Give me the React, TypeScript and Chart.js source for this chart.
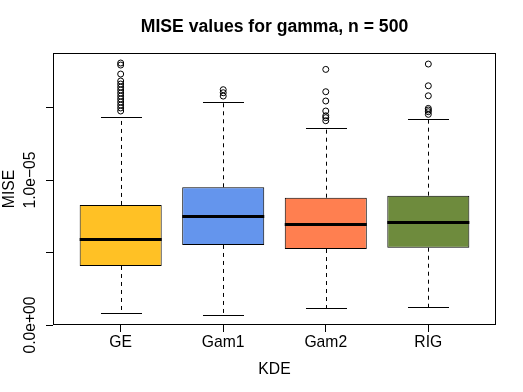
import { useEffect, useRef } from "react";
import { Chart, registerables } from "chart.js";

Chart.register(...registerables);

const FONT = "'Liberation Sans', Arial, Helvetica, sans-serif";

const chartTitle = "MISE values for gamma, n = 500";
const xAxisTitle = "KDE";
const yAxisTitle = "MISE";

const categories = ["GE", "Gam1", "Gam2", "RIG"];
const boxColors = ["#FFC125", "#6495ED", "#FF7F50", "#6E8B3D"];

const lowerWhisker = [0.85e-6, 0.69e-6, 1.15e-6, 1.26e-6];
const q1 = [4.07e-6, 5.52e-6, 5.24e-6, 5.33e-6];
const median = [5.93e-6, 7.54e-6, 6.97e-6, 7.08e-6];
const q3 = [8.28e-6, 9.5e-6, 8.78e-6, 8.92e-6];
const upperWhisker = [14.37e-6, 15.36e-6, 13.61e-6, 14.19e-6];

const outliersGE = [
  18.07e-6, 17.93e-6, 17.31e-6, 16.83e-6, 16.62e-6, 16.41e-6, 16.21e-6, 16.0e-6,
  15.79e-6, 15.59e-6, 15.38e-6, 15.17e-6, 14.97e-6, 14.76e-6,
];
const outliersGam1 = [16.23e-6, 16.02e-6, 15.79e-6];
const outliersGam2 = [17.63e-6, 16.09e-6, 15.45e-6, 14.76e-6, 14.43e-6, 14.3e-6, 14.09e-6];
const outliersRIG = [18.0e-6, 16.5e-6, 15.81e-6, 14.94e-6, 14.83e-6, 14.71e-6, 14.53e-6];
const outliers = [outliersGE, outliersGam1, outliersGam2, outliersRIG];

const yTicks = [0, 5e-6, 1e-5, 1.5e-5];
const yTickLabels = ["0.0e+00", "", "1.0e\u221205", ""];
const yMin = 0;
const yMax = 1.876e-5;

const boxPlugin = {
  id: "boxExtras",
  beforeDatasetsDraw(chart: any) {
    const { ctx, scales } = chart;
    const x = scales.x;
    const y = scales.y;
    const meta = chart.getDatasetMeta(0);
    ctx.save();
    ctx.strokeStyle = "#000";
    ctx.lineWidth = 1;
    categories.forEach((_, i) => {
      const bar = meta.data[i];
      const halfW = bar.width / 2;
      const cx = Math.round(x.getPixelForValue(i + 1)) + 0.5;
      const pQ1 = y.getPixelForValue(q1[i]);
      const pQ3 = y.getPixelForValue(q3[i]);
      const pLo = Math.round(y.getPixelForValue(lowerWhisker[i])) + 0.5;
      const pHi = Math.round(y.getPixelForValue(upperWhisker[i])) + 0.5;
      ctx.setLineDash([4, 4]);
      ctx.beginPath();
      ctx.moveTo(cx, pQ3);
      ctx.lineTo(cx, pHi);
      ctx.moveTo(cx, pQ1);
      ctx.lineTo(cx, pLo);
      ctx.stroke();
      ctx.setLineDash([]);
      ctx.beginPath();
      ctx.moveTo(cx - halfW / 2, pHi);
      ctx.lineTo(cx + halfW / 2, pHi);
      ctx.moveTo(cx - halfW / 2, pLo);
      ctx.lineTo(cx + halfW / 2, pLo);
      ctx.stroke();
    });
    ctx.restore();
  },
  afterDatasetsDraw(chart: any) {
    const { ctx, scales } = chart;
    const x = scales.x;
    const y = scales.y;
    const meta = chart.getDatasetMeta(0);
    ctx.save();
    ctx.strokeStyle = "#000";
    ctx.lineWidth = 3;
    categories.forEach((_, i) => {
      const bar = meta.data[i];
      const halfW = bar.width / 2;
      const cx = x.getPixelForValue(i + 1);
      const pm = Math.round(y.getPixelForValue(median[i])) + 0.5;
      ctx.beginPath();
      ctx.moveTo(cx - halfW, pm);
      ctx.lineTo(cx + halfW, pm);
      ctx.stroke();
    });
    ctx.restore();
  },
  afterDraw(chart: any) {
    const { ctx, chartArea, scales } = chart;
    const y = scales.y;
    ctx.save();
    ctx.strokeStyle = "#000";
    ctx.lineWidth = 1;
    const l = Math.round(chartArea.left) + 0.5;
    const t = Math.round(chartArea.top) + 0.5;
    const r = Math.round(chartArea.right) - 0.5;
    const b = Math.round(chartArea.bottom) - 0.5;
    ctx.strokeRect(l, t, r - l, b - t);
    ctx.fillStyle = "#000";
    ctx.font = `15.7px ${FONT}`;
    ctx.textAlign = "center";
    ctx.textBaseline = "alphabetic";
    yTicks.forEach((v, i) => {
      const label = yTickLabels[i];
      if (!label) return;
      const py = y.getPixelForValue(v);
      ctx.save();
      ctx.translate(35, py);
      ctx.rotate(-Math.PI / 2);
      ctx.fillText(label, 0, 0);
      ctx.restore();
    });
    ctx.save();
    ctx.translate(13.5, (chartArea.top + chartArea.bottom) / 2);
    ctx.rotate(-Math.PI / 2);
    ctx.fillText(yAxisTitle, 0, 0);
    ctx.restore();
    ctx.restore();
  },
};

export default function App() {
  const canvasRef = useRef<HTMLCanvasElement | null>(null);

  useEffect(() => {
    const canvas = canvasRef.current;
    if (!canvas) return;
    const tickFont = { family: FONT, size: 15.7, lineHeight: 1.2 };
    const scatterData: { x: number; y: number }[] = [];
    outliers.forEach((arr, i) => arr.forEach((v) => scatterData.push({ x: i + 1, y: v })));

    const chart = new Chart(canvas, {
      type: "bar",
      data: {
        datasets: [
          {
            type: "bar",
            data: categories.map((_, i) => ({ x: i + 1, y: [q1[i], q3[i]] })) as any,
            backgroundColor: boxColors,
            borderColor: "#000",
            borderWidth: 1,
            borderSkipped: false,
            categoryPercentage: 1,
            barPercentage: 0.8,
          } as any,
          {
            type: "scatter",
            data: scatterData,
            pointStyle: "circle",
            pointRadius: 3,
            pointBorderWidth: 1,
            pointBorderColor: "#000",
            pointBackgroundColor: "rgba(0,0,0,0)",
            showLine: false,
          } as any,
        ],
      },
      options: {
        responsive: false,
        animation: false,
        devicePixelRatio: 1,
        layout: { padding: { left: 0, right: 27, top: 0, bottom: 0 } },
        plugins: {
          legend: { display: false },
          tooltip: { enabled: false },
          title: {
            display: true,
            fullSize: false,
            text: chartTitle,
            color: "#000",
            font: { family: FONT, size: 17.6, weight: "bold", lineHeight: 1.2 },
            padding: { top: 16.4, bottom: 15.5 },
          },
        },
        scales: {
          x: {
            type: "linear",
            min: 0.34,
            max: 4.66,
            offset: false,
            afterBuildTicks: (s: any) => {
              s.ticks = categories.map((_, i) => ({ value: i + 1 }));
            },
            afterFit: (s: any) => {
              s.height = 67;
            },
            ticks: {
              callback: (v: any) => categories[Math.round(v) - 1] ?? "",
              color: "#000",
              font: tickFont,
              padding: 1.5,
              autoSkip: false,
              maxRotation: 0,
              minRotation: 0,
            },
            grid: { offset: false, drawOnChartArea: false, drawTicks: true, tickLength: 7, color: "#000", lineWidth: 1 },
            border: { display: false },
            title: {
              display: true,
              text: xAxisTitle,
              color: "#000",
              font: tickFont,
              padding: { top: 0, bottom: 12.8 },
            },
          },
          y: {
            type: "linear",
            min: yMin,
            max: yMax,
            afterBuildTicks: (s: any) => {
              s.ticks = yTicks.map((v) => ({ value: v }));
            },
            afterFit: (s: any) => {
              s.width = 53;
            },
            ticks: { display: false },
            grid: { drawOnChartArea: false, drawTicks: true, tickLength: 7, color: "#000", lineWidth: 1 },
            border: { display: false },
          },
        },
      } as any,
      plugins: [boxPlugin],
    });
    return () => chart.destroy();
  }, []);

  return (
    <div style={{ position: "absolute", left: 0, top: 0, width: 523, height: 392, background: "#fff" }}>
      <canvas ref={canvasRef} width={523} height={392} style={{ width: 523, height: 392 }} />
    </div>
  );
}
